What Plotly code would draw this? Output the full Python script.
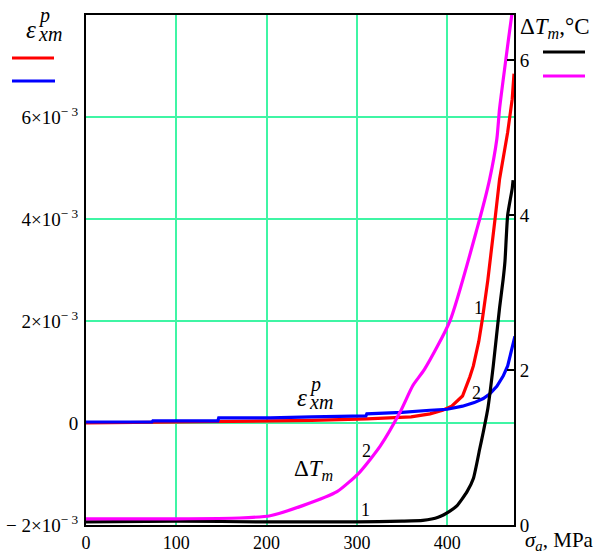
import plotly.graph_objects as go

# Stress amplitude sigma_a, MPa, and measured responses
# Curve 1 / curve 2: plastic strain eps_xm^p (left axis, x1e-3) and temperature rise dT_m (right axis, degC)
sigma_eps1 = [0, 146, 250, 311, 360, 381, 395, 405, 417, 425, 429, 435, 439, 445, 450, 453, 458, 462, 467, 472, 474]
eps1 = [0.00, 0.03, 0.05, 0.08, 0.12, 0.18, 0.25, 0.33, 0.53, 0.90, 1.12, 1.60, 2.04, 2.80, 3.50, 4.00, 4.78, 5.20, 5.70, 6.35, 6.85]

sigma_eps2 = [0, 73, 74, 146, 147, 204, 250, 310, 311, 350, 381, 400, 417, 430, 440, 447, 455, 462, 467, 471, 475]
eps2 = [0.02, 0.02, 0.04, 0.04, 0.10, 0.10, 0.12, 0.14, 0.18, 0.21, 0.25, 0.27, 0.33, 0.40, 0.48, 0.57, 0.72, 0.92, 1.12, 1.40, 1.70]

sigma_t1 = [0, 100, 200, 300, 350, 373, 390, 403, 411, 422, 429, 436, 440, 445, 451, 458, 462, 464, 467, 472, 473]
dT1 = [0.04, 0.05, 0.04, 0.04, 0.05, 0.06, 0.10, 0.18, 0.25, 0.43, 0.60, 0.98, 1.20, 1.50, 2.05, 2.80, 3.17, 3.40, 4.00, 4.34, 4.45]

sigma_t2 = [0, 100, 170, 204, 240, 278, 303, 326, 348, 362, 375, 403, 433, 447, 455, 458, 464, 472, 476]
dT2 = [0.08, 0.08, 0.09, 0.12, 0.25, 0.43, 0.68, 1.02, 1.46, 1.80, 2.01, 2.63, 3.82, 4.46, 4.98, 5.37, 5.92, 6.62, 6.90]

eps_ticks = [-2, 0, 2, 4, 6]
eps_ticktext = ["\u2212 2\u00d710<sup>\u2212 3</sup>", "0", "2\u00d710<sup>\u2212 3</sup>",
                "4\u00d710<sup>\u2212 3</sup>", "6\u00d710<sup>\u2212 3</sup>"]
t_ticks = [0, 2, 4, 6]
sigma_ticks = [0, 100, 200, 300, 400]

RED, BLUE, BLACK, MAGENTA = "#ff0000", "#0000ff", "#000000", "#ff00ff"
GRID = "#3ff5a4"
FONT = "Liberation Serif"

W, H = 595, 553
ML, MR, MT, MB = 86, 81, 15, 28
PW, PH = W - ML - MR, H - MT - MB


def px(x):
    return (x - ML) / PW


def py(y):
    return (H - MB - y) / PH


fig = go.Figure()
fig.add_trace(go.Scatter(x=sigma_t1, y=dT1, yaxis="y2", mode="lines",
                         line=dict(color=BLACK, width=3.2, shape="spline", smoothing=0.5), showlegend=False))
fig.add_trace(go.Scatter(x=sigma_t2, y=dT2, yaxis="y2", mode="lines",
                         line=dict(color=MAGENTA, width=3.2, shape="spline", smoothing=0.6), showlegend=False))
fig.add_trace(go.Scatter(x=sigma_eps1, y=[v * 1e-3 for v in eps1], mode="lines",
                         line=dict(color=RED, width=3.2), showlegend=False))
fig.add_trace(go.Scatter(x=sigma_eps2, y=[v * 1e-3 for v in eps2], mode="lines",
                         line=dict(color=BLUE, width=3.2), showlegend=False))

ann = []


def label(x, y, text, size=20, xanchor="center"):
    ann.append(dict(x=px(x), y=py(y), xref="paper", yref="paper", text=text, showarrow=False,
                    xanchor=xanchor, yanchor="middle", font=dict(family=FONT, size=size, color="#000")))


def eps_symbol(x0, y0):
    # eps with superscript p and subscript xm, laid out separately so they stack
    label(x0, y0, "<i>\u03b5</i>", 25)
    label(x0 + 13, y0 - 13, "<i>p</i>", 20)
    label(x0 + 19, y0 + 5, "<i>xm</i>", 20)


eps_symbol(31, 29)
eps_symbol(302, 397)
label(518, 28, "\u0394<i>T</i><sub><i>m</i></sub>,\u00b0C", 23, "left")
label(292, 470, "\u0394<i>T</i><sub><i>m</i></sub>", 23, "left")
label(523, 541, "<i>\u03c3</i><sub><i>a</i></sub>, MPa", 21, "left")
label(366, 451, "2", 18)
label(365, 510, "1", 18)
label(478, 308, "1", 18)
label(476, 393, "2", 18)

shapes = []
for (x0, x1, y, c) in [(12, 54, 58, RED), (12, 55, 81, BLUE), (543, 585, 52, BLACK), (543, 585, 76, MAGENTA)]:
    shapes.append(dict(type="line", xref="paper", yref="paper", x0=px(x0), x1=px(x1), y0=py(y), y1=py(y),
                       line=dict(color=c, width=3)))

fig.update_layout(
    width=W, height=H,
    margin=dict(l=ML, r=MR, t=MT, b=MB, pad=0, autoexpand=False),
    paper_bgcolor="white", plot_bgcolor="white",
    font=dict(family=FONT, size=18, color="#000"),
    showlegend=False,
    annotations=ann, shapes=shapes,
    xaxis=dict(range=[0, 474], tickvals=sigma_ticks, showgrid=True, gridcolor=GRID, gridwidth=1.6,
               zeroline=False, showline=True, linecolor="#000", linewidth=2, mirror=True,
               ticks="", ticklabelstandoff=0, automargin=False, tickfont=dict(family=FONT, size=18)),
    yaxis=dict(range=[-2e-3, 8e-3], tickvals=[v * 1e-3 for v in eps_ticks], ticktext=eps_ticktext,
               showgrid=True, gridcolor=GRID, gridwidth=1.6, zeroline=False, automargin=False,
               showline=True, linecolor="#000", linewidth=2, ticks="", ticklabelstandoff=2,
               tickfont=dict(family=FONT, size=19)),
    yaxis2=dict(range=[0, 6.58], tickvals=t_ticks, overlaying="y", side="right", showgrid=False,
                zeroline=False, showline=True, linecolor="#000", linewidth=2, automargin=False,
                ticks="inside", ticklen=7, tickcolor="#000", tickwidth=1.5,
                tickfont=dict(family=FONT, size=19)),
)

fig.write_html("out.html")
